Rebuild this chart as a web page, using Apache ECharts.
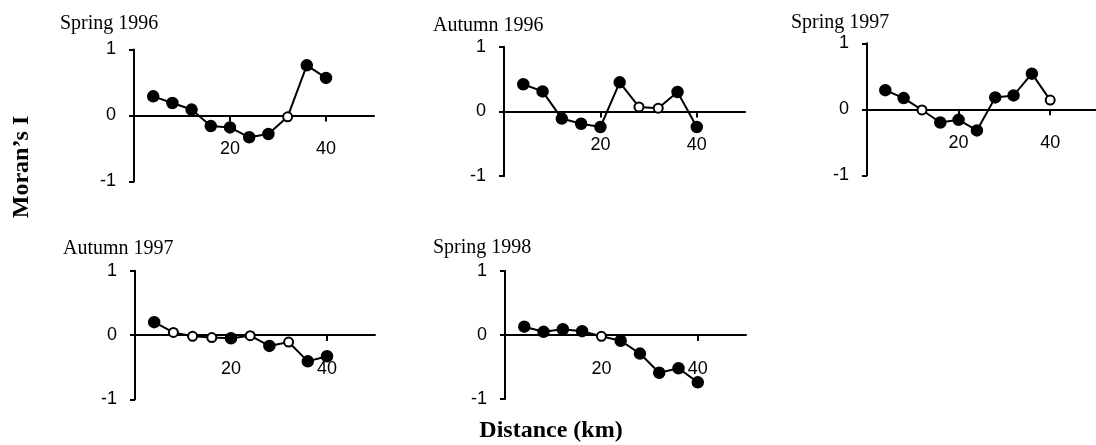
<!DOCTYPE html>
<html>
  <head>
    <meta charset="utf-8" />
    <title>Moran's I correlograms</title>
    <style type="text/css">
      html,
      body {
        margin: 0;
        padding: 0;
        background: #fff;
      }
    </style>
    <script src="https://cdn.jsdelivr.net/npm/echarts@6/dist/echarts.min.js"></script>
  </head>
  <body>
    <div id="chart" style="width: 1096px; height: 445px"></div>
    <script type="text/javascript">
      // distance classes (km)
      var distances = [4, 8, 12, 16, 20, 24, 28, 32, 36, 40];

      // Moran's I per survey
      var spring1996 = [0.29, 0.19, 0.09, -0.16, -0.18, -0.33, -0.28, -0.02, 0.76, 0.57];
      var autumn1996 = [0.42, 0.31, -0.11, -0.19, -0.24, 0.45, 0.07, 0.05, 0.3, -0.24];
      var spring1997 = [0.29, 0.17, -0.01, -0.2, -0.16, -0.32, 0.18, 0.21, 0.54, 0.14];
      var autumn1997 = [0.2, 0.04, -0.02, -0.04, -0.05, -0.01, -0.17, -0.11, -0.41, -0.33];
      var spring1998 = [0.13, 0.05, 0.09, 0.06, -0.02, -0.09, -0.29, -0.59, -0.52, -0.74];

      // indexes of the open (non significant) points
      var openSpring1996 = [7];
      var openAutumn1996 = [6, 7];
      var openSpring1997 = [2, 9];
      var openAutumn1997 = [1, 2, 3, 5, 7];
      var openSpring1998 = [4];

      var panelTitles = ["Spring 1996", "Autumn 1996", "Spring 1997", "Autumn 1997", "Spring 1998"];
      var xTicks = [20, 40];

      var panels = [
        { values: spring1996, open: openSpring1996, grid: { left: 134, top: 49.5, width: 240, height: 132 }, title: { left: 60, top: 14 } },
        { values: autumn1996, open: openAutumn1996, grid: { left: 504, top: 46.7, width: 241, height: 129.5 }, title: { left: 433, top: 16 } },
        { values: spring1997, open: openSpring1997, grid: { left: 867, top: 43.3, width: 239, height: 132 }, title: { left: 791, top: 13 } },
        { values: autumn1997, open: openAutumn1997, grid: { left: 135, top: 270.7, width: 240, height: 128.6 }, title: { left: 63, top: 239 } },
        { values: spring1998, open: openSpring1998, grid: { left: 505, top: 271, width: 241, height: 128 }, title: { left: 433, top: 238 } },
      ];

      var chart = echarts.init(document.getElementById("chart"), null, { renderer: "canvas" });

      var sansLabel = { fontFamily: "Liberation Sans", fontSize: 18, color: "#000" };

      var option = {
        animation: false,
        backgroundColor: "#fff",
        title: panels.map((p, i) => ({
          text: panelTitles[i],
          left: p.title.left,
          top: p.title.top,
          padding: 0,
          textStyle: { fontFamily: "Liberation Serif", fontSize: 20, fontWeight: "normal", color: "#000" },
        })),
        grid: panels.map((p) => Object.assign({ containLabel: false }, p.grid)),
        xAxis: panels.map((p, i) => ({
          type: "value",
          gridIndex: i,
          min: 0,
          max: 50,
          axisLine: { show: true, onZero: true, lineStyle: { color: "#000", width: 2 } },
          axisTick: { show: true, customValues: xTicks, length: 6, lineStyle: { color: "#000", width: 2 } },
          // labels sit under the zero line, not under the grid bottom
          axisLabel: Object.assign({ customValues: xTicks, margin: 25 - p.grid.height / 2 }, sansLabel),
          splitLine: { show: false },
        })),
        yAxis: panels.map((p, i) => ({
          type: "value",
          gridIndex: i,
          min: -1,
          max: 1,
          interval: 1,
          axisLine: { show: true, onZero: false, lineStyle: { color: "#000", width: 2 } },
          axisTick: { show: true, length: 5, lineStyle: { color: "#000", width: 2 } },
          axisLabel: Object.assign({ margin: 18 }, sansLabel),
          splitLine: { show: false },
        })),
        series: panels.map((p, i) => ({
          type: "line",
          xAxisIndex: i,
          yAxisIndex: i,
          showAllSymbol: true,
          symbol: "circle",
          symbolSize: 11,
          lineStyle: { color: "#000", width: 2 },
          itemStyle: { color: "#000", borderColor: "#000", borderWidth: 1.5 },
          data: distances.map((d, k) => {
            var item = { value: [d, p.values[k]] };
            if (p.open.indexOf(k) >= 0) {
              item.symbolSize = 9;
              item.itemStyle = { color: "#fff", borderColor: "#000", borderWidth: 2 };
            }
            return item;
          }),
        })),
        graphic: [
          {
            type: "text",
            x: 22,
            y: 167,
            rotation: Math.PI / 2,
            style: {
              text: "Moran\u2019s I",
              font: "bold 24px 'Liberation Serif'",
              fill: "#000",
              textAlign: "center",
              textVerticalAlign: "middle",
            },
          },
          {
            type: "text",
            x: 551,
            y: 431,
            style: {
              text: "Distance (km)",
              font: "bold 24px 'Liberation Serif'",
              fill: "#000",
              textAlign: "center",
              textVerticalAlign: "middle",
            },
          },
        ],
      };
      chart.setOption(option);
    </script>
  </body>
</html>
